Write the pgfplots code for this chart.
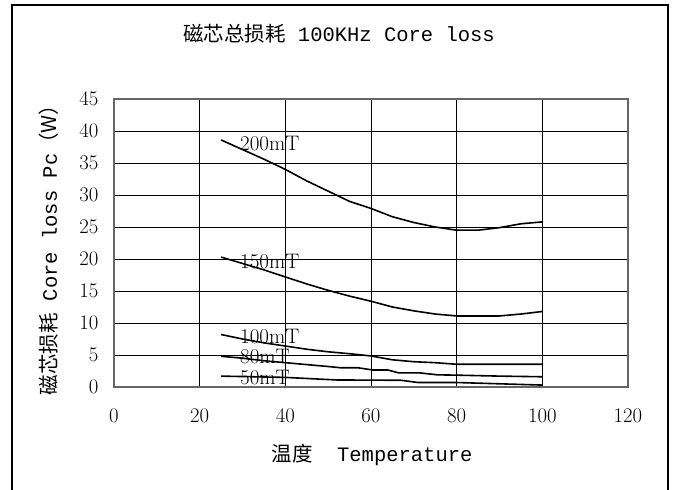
\documentclass[border=0pt]{standalone}
\usepackage{pgfplots}
\pgfplotsset{compat=1.18}
\usepackage{fontspec}
\newfontfamily\cjk{Noto Sans CJK SC}
\newfontfamily\mono{Liberation Mono}
\newcommand\fz{\fontsize{20.5}{24}\selectfont}
\newcommand\fzt{\fontsize{21}{25}\selectfont}
\begin{document}
\begin{tikzpicture}[x=1pt,y=1pt]
\useasboundingbox (0,0) rectangle (675,490);
\draw[line width=1.2pt] (12,-10) rectangle (668,485);
\node[font=\fz] at (339,456) {{\cjk 磁芯总损耗}{\mono\ 100KHz Core loss}};
\node[font=\fz] at (372,35) {{\cjk 温度}{\mono\ \ Temperature}};
\node[font=\fz, rotate=90] at (49,245) {{\cjk 磁芯损耗}{\mono\ Core loss Pc}{\cjk （W）}};
\begin{axis}[
  at={(114pt,103pt)}, anchor=south west,
  scale only axis, width=514pt, height=288pt,
  xmin=0, xmax=120, ymin=0, ymax=45,
  xtick={0,20,...,120}, ytick={0,5,...,45},
  grid=major, grid style={black, line width=0.8pt},
  axis line style={gray!80!black, line width=1.5pt},
  major tick length=0pt,
  tick label style={font=\fzt},
  xticklabel style={yshift=-19pt},
  yticklabel style={xshift=-12pt},
]
\addplot[black, line width=1.6pt, no markers] coordinates {(25,38.6) (30,37.1) (35,35.6) (40,34.0) (45,32.2) (50,30.6) (55,29.0) (60,27.9) (65,26.6) (70,25.7) (75,25.0) (80,24.5) (85,24.5) (90,24.9) (95,25.5) (100,25.8)};
\addplot[black, line width=1.6pt, no markers] coordinates {(25,20.3) (30,19.3) (35,18.3) (40,17.2) (45,16.1) (50,15.1) (55,14.2) (60,13.4) (65,12.5) (70,11.9) (75,11.4) (80,11.1) (85,11.1) (90,11.1) (95,11.4) (100,11.8)};
\addplot[black, line width=1.6pt, no markers] coordinates {(25,8.2) (30,7.5) (35,6.9) (40,6.4) (45,5.9) (50,5.5) (55,5.2) (60,4.85) (65,4.25) (70,3.95) (75,3.8) (80,3.55) (100,3.55)};
\addplot[black, line width=1.6pt, no markers] coordinates {(25,4.8) (30,4.5) (35,4.1) (40,3.8) (45,3.5) (50,3.2) (53,3.0) (57,3.0) (60.5,2.65) (64,2.65) (66.5,2.2) (71.5,2.2) (75.5,1.9) (80,1.85) (90,1.7) (100,1.6)};
\addplot[black, line width=1.6pt, no markers] coordinates {(25,1.7) (40,1.5) (52,1.1) (67,1.05) (71,0.7) (80,0.7) (100,0.3)};
\node[anchor=west, font=\fzt, inner sep=0pt] at (axis cs:29.4,38.1) {200mT};
\node[anchor=west, font=\fzt, inner sep=0pt] at (axis cs:29.4,19.6) {150mT};
\node[anchor=west, font=\fzt, inner sep=0pt] at (axis cs:29.4,7.9) {100mT};
\node[anchor=west, font=\fzt, inner sep=0pt] at (axis cs:29.4,4.8) {80mT};
\node[anchor=west, font=\fzt, inner sep=0pt] at (axis cs:29.4,1.5) {50mT};
\end{axis}
\end{tikzpicture}
\end{document}
